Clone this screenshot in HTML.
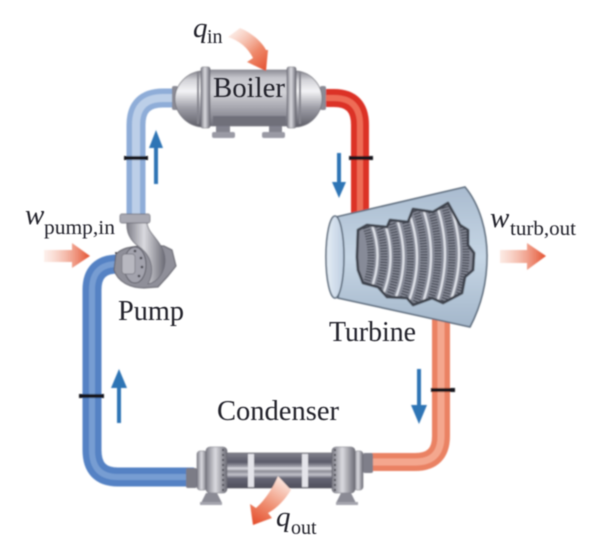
<!DOCTYPE html>
<html>
<head>
<meta charset="utf-8">
<style>
html,body{margin:0;padding:0;background:#fff;width:604px;height:560px;overflow:hidden}
svg{display:block}
text{font-family:"Liberation Serif",serif;fill:#20202a}
</style>
</head>
<body>
<svg width="604" height="560" viewBox="0 0 604 560" xmlns="http://www.w3.org/2000/svg">
<defs>
<filter id="b" x="-10%" y="-10%" width="120%" height="120%"><feGaussianBlur stdDeviation="0.7"/></filter>
<filter id="t" x="-10%" y="-20%" width="120%" height="140%"><feGaussianBlur stdDeviation="0.4"/></filter>
<clipPath id="jag"><path d="M358 230L367 225L387 227L390 220L408 222L413 209L433 212L448 203L460 225L468 230L468 245L474 253L473 270L465 277L462 293L443 303L432 298L413 305L407 298L387 297L378 287L363 283L358 270L357 257Z"/></clipPath>
<linearGradient id="metalV" x1="0" y1="0" x2="0" y2="1">
<stop offset="0" stop-color="#85858e"/><stop offset=".16" stop-color="#d2d2d7"/><stop offset=".36" stop-color="#f4f4f6"/><stop offset=".66" stop-color="#9d9da6"/><stop offset="1" stop-color="#5e5e68"/>
</linearGradient>
<linearGradient id="bodyV" x1="0" y1="0" x2="0" y2="1">
<stop offset="0" stop-color="#8c8c95"/><stop offset=".14" stop-color="#c6c6cc"/><stop offset=".4" stop-color="#d2d2d7"/><stop offset=".75" stop-color="#9a9aa3"/><stop offset="1" stop-color="#70707a"/>
</linearGradient>
<linearGradient id="metalH" x1="0" y1="0" x2="1" y2="0">
<stop offset="0" stop-color="#7d7d87"/><stop offset=".45" stop-color="#dadadf"/><stop offset="1" stop-color="#6c6c76"/>
</linearGradient>
<linearGradient id="cond" x1="0" y1="0" x2="0" y2="1">
<stop offset="0" stop-color="#82828d"/><stop offset=".26" stop-color="#5a5a68"/><stop offset=".38" stop-color="#9c9ca6"/><stop offset=".44" stop-color="#dcdce2"/><stop offset=".52" stop-color="#8b8b95"/><stop offset=".62" stop-color="#c2c2ca"/><stop offset=".72" stop-color="#666674"/><stop offset="1" stop-color="#4e4e5c"/>
</linearGradient>
<linearGradient id="tb" x1="0" y1="0" x2="0" y2="1">
<stop offset="0" stop-color="#a9bbcf"/><stop offset=".5" stop-color="#c6d6e5"/><stop offset="1" stop-color="#a3b6ca"/>
</linearGradient>
<linearGradient id="ell" x1="0" y1="0" x2="1" y2="0">
<stop offset="0" stop-color="#e6eef6"/><stop offset="1" stop-color="#bccde0"/>
</linearGradient>
<linearGradient id="ra1" gradientUnits="userSpaceOnUse" x1="44" y1="0" x2="90" y2="0">
<stop offset="0" stop-color="#f4b9a4" stop-opacity=".2"/><stop offset="1" stop-color="#e4502f"/>
</linearGradient>
<linearGradient id="ra2" gradientUnits="userSpaceOnUse" x1="500" y1="0" x2="546" y2="0">
<stop offset="0" stop-color="#f4b9a4" stop-opacity=".3"/><stop offset="1" stop-color="#e4502f"/>
</linearGradient>
<linearGradient id="ra3" gradientUnits="userSpaceOnUse" x1="230" y1="30" x2="268" y2="70">
<stop offset="0" stop-color="#f4b9a4" stop-opacity=".2"/><stop offset=".6" stop-color="#ee8a6c"/><stop offset="1" stop-color="#e4502f"/>
</linearGradient>
<linearGradient id="ra4" gradientUnits="userSpaceOnUse" x1="282" y1="480" x2="255" y2="524">
<stop offset="0" stop-color="#fbe3da"/><stop offset=".55" stop-color="#ef8f72"/><stop offset="1" stop-color="#e4502f"/>
</linearGradient>
</defs>

<g filter="url(#b)">
<!-- Pipes -->
<g fill="none" stroke-linecap="butt">
<path d="M136 216V125Q136 98 163 98H180" stroke="#8fadd8" stroke-width="19"/>
<path d="M136 216V125Q136 98 163 98H180" stroke="#bccfe8" stroke-width="8"/>
<path d="M322 98H334Q360 98 360 125V216" stroke="#dc3327" stroke-width="18"/>
<path d="M322 98H334Q360 98 360 125V216" stroke="#ee6c56" stroke-width="6"/>
<path d="M441 318V436Q441 462 415 462H366" stroke="#ea8263" stroke-width="18"/>
<path d="M441 318V436Q441 462 415 462H366" stroke="#f4a78e" stroke-width="7"/>
<path d="M194 477H118Q92 477 92 450V290Q92 264 118 264H126" stroke="#5482c4" stroke-width="19"/>
<path d="M194 477H118Q92 477 92 450V290Q92 264 118 264H126" stroke="#779dd2" stroke-width="6"/>
</g>

<!-- Bands -->
<g fill="#15151a">
<rect x="124" y="156" width="24" height="4"/>
<rect x="349" y="156" width="24" height="4"/>
<rect x="431" y="388" width="24" height="4"/>
<rect x="79" y="394" width="25" height="4"/>
</g>

<!-- Flow arrows -->
<g fill="#2f75b5">
<path d="M154 184V148H149L156 130L163 148H158V184Z"/>
<path d="M337 153V182H332L339 198L346 182H341V153Z"/>
<path d="M417 369V405H411L419 424L427 405H421V369Z"/>
<path d="M117 423V388H111L119 369L127 388H121V423Z"/>
</g>

<!-- Boiler -->
<rect x="172" y="86" width="6" height="24" rx="2" fill="#8a8a94"/>
<rect x="320" y="86" width="6" height="24" rx="2" fill="#8a8a94"/>
<rect x="216" y="124" width="14" height="10" fill="#83838e"/>
<rect x="269" y="124" width="13" height="10" fill="#83838e"/>
<rect x="212" y="132" width="23" height="6" rx="2" fill="#9a9aa4"/>
<rect x="262" y="132" width="23" height="6" rx="2" fill="#9a9aa4"/>
<path d="M202 71C186 72 175 86 175 99C175 112 186 126 202 127Z" fill="url(#metalV)" stroke="#75757d" stroke-width=".8"/>
<path d="M296 71C312 72 322 86 322 99C322 112 312 126 296 127Z" fill="url(#metalV)" stroke="#75757d" stroke-width=".8"/>
<rect x="205" y="70" width="86" height="56" fill="url(#bodyV)" stroke="#7b7b83" stroke-width=".6"/>
<rect x="201" y="67" width="9" height="61" rx="2" fill="url(#metalH)" stroke="#66666f" stroke-width=".6"/>
<rect x="287" y="67" width="9" height="61" rx="2" fill="url(#metalH)" stroke="#66666f" stroke-width=".6"/>
<rect x="197" y="72" width="2" height="52" fill="#85858e"/>
<rect x="299" y="72" width="2" height="52" fill="#85858e"/>
<rect x="213" y="116" width="73" height="10" fill="#6f6f7a"/>

<!-- Turbine -->
<path d="M336 217L465 187C480 205 487 232 487 256C487 285 480 308 470 327L338 298C345 270 345 240 336 217Z" fill="url(#tb)" stroke="#5b6a7b" stroke-width="1.6"/>
<ellipse cx="335" cy="257" rx="9" ry="41" fill="url(#ell)" stroke="#5b6a7b" stroke-width="1.6"/>
<path d="M358 230L367 225L387 227L390 220L408 222L413 209L433 212L448 203L460 225L468 230L468 245L474 253L473 270L465 277L462 293L443 303L432 298L413 305L407 298L387 297L378 287L363 283L358 270L357 257Z" fill="#878b98"/>
<g fill="none" clip-path="url(#jag)">
<g stroke="#3a3e49" stroke-width="7" stroke-dasharray="1.2 1.6">
<path d="M364 222Q378 256 364 290"/><path d="M376 218Q392 257 376 294"/><path d="M388 213Q406 258 388 300"/><path d="M401 209Q420 258 401 304"/><path d="M414 205Q434 256 414 308"/><path d="M428 201Q448 254 428 308"/><path d="M442 199Q462 254 442 308"/><path d="M456 205Q476 254 456 302"/>
</g>
<g stroke="#dfe2e9" stroke-width="2.2">
<path d="M370 220Q385 256 370 292"/><path d="M382 216Q399 257 382 297"/><path d="M394 211Q413 258 394 302"/><path d="M407 207Q427 258 407 306"/><path d="M421 203Q441 255 421 308"/><path d="M435 200Q455 254 435 308"/><path d="M449 202Q469 254 449 305"/>
</g>
</g>
<path d="M358 230L367 225L387 227L390 220L408 222L413 209L433 212L448 203L460 225L468 230L468 245L474 253L473 270L465 277L462 293L443 303L432 298L413 305L407 298L387 297L378 287L363 283L358 270L357 257Z" fill="none" stroke="#41454f" stroke-width="2.8" stroke-linejoin="round"/>

<!-- Pump -->
<path d="M116 254C124 246 135 247 146 245L164 246L172 250L176 266L168 276L158 287L144 288C130 288 118 282 114 270Z" fill="#8f8f99" stroke="#5e5e68" stroke-width="1"/>
<path d="M127 222H147C147 232 158 238 163 250C169 266 160 282 148 284C156 268 150 254 138 246C130 240 126 232 127 222Z" fill="url(#metalH)" stroke="#6a6a74" stroke-width=".8"/>
<rect x="120" y="214" width="30" height="9" rx="2" fill="#a9a9b2" stroke="#686872" stroke-width=".7"/>
<ellipse cx="135" cy="265" rx="11" ry="18" fill="#a3a3ad" stroke="#5c5c66" stroke-width="1"/>
<rect x="122" y="254" width="13" height="20" rx="3" fill="#b8b8c0" stroke="#72727c" stroke-width=".7"/>
<g fill="#3a3a44">
<circle cx="135" cy="251" r="1.3"/><circle cx="141" cy="258" r="1.3"/><circle cx="142" cy="267" r="1.3"/><circle cx="139" cy="276" r="1.3"/><circle cx="116" cy="253" r="1"/>
</g>

<!-- Condenser -->
<rect x="186" y="468" width="11" height="20" rx="2" fill="#7b7b86"/>
<rect x="363" y="453" width="10" height="20" rx="2" fill="#7f7f8a"/>
<rect x="224" y="453" width="108" height="35" fill="url(#cond)" stroke="#55555f" stroke-width=".6"/>
<rect x="248" y="454" width="6" height="33" fill="#e4e4ea"/>
<rect x="302" y="454" width="6" height="33" fill="#e4e4ea"/>
<rect x="197" y="451" width="10" height="39" rx="3" fill="url(#metalH)" stroke="#6a6a74" stroke-width=".5"/>
<rect x="354" y="451" width="9" height="39" rx="3" fill="url(#metalH)" stroke="#6a6a74" stroke-width=".5"/>
<rect x="206" y="447" width="21" height="46" rx="4" fill="url(#metalH)" stroke="#6a6a74" stroke-width=".6"/>
<rect x="332" y="447" width="23" height="46" rx="4" fill="url(#metalH)" stroke="#6a6a74" stroke-width=".6"/>
<g stroke="#44444e" stroke-width="1.8" stroke-dasharray="2 3">
<path d="M223 449V491"/><path d="M335 449V491"/>
</g>
<path d="M206 493H217L222 503H201Z" fill="#8b8b95"/>
<path d="M341 493H351L356 503H336Z" fill="#8b8b95"/>
<rect x="200" y="502" width="22" height="3" fill="#a5a5ae"/>
<rect x="336" y="502" width="22" height="3" fill="#a5a5ae"/>

<!-- Energy arrows -->
<path d="M44 250H72V243L90 256L72 268V262H44Z" fill="url(#ra1)"/>
<path d="M500 250H527V243L546 256L527 270V263H500Z" fill="url(#ra2)"/>
<path d="M228 37L240 28C252 33 262 42 266 50L268 50L266 71L247 62L253 58C248 48 240 41 228 37Z" fill="url(#ra3)"/>
<path d="M278 476L291 490C284 501 276 509 268 513L272 518L253 525L250 504L256 508C265 500 273 488 278 476Z" fill="url(#ra4)"/>
</g>

<!-- Labels -->
<g filter="url(#t)">
<text x="213" y="97" font-size="28" textLength="72" lengthAdjust="spacingAndGlyphs">Boiler</text>
<text x="329" y="341" font-size="28" textLength="87" lengthAdjust="spacingAndGlyphs">Turbine</text>
<text x="118" y="320" font-size="28" textLength="66" lengthAdjust="spacingAndGlyphs">Pump</text>
<text x="217" y="420" font-size="28" textLength="122" lengthAdjust="spacingAndGlyphs">Condenser</text>
<text x="193" y="37" font-size="29" font-style="italic">q</text>
<text x="207" y="43" font-size="20">in</text>
<text x="25" y="224" font-size="29" font-style="italic">w</text>
<text x="44" y="234" font-size="20" textLength="71" lengthAdjust="spacingAndGlyphs">pump,in</text>
<text x="490" y="227" font-size="29" font-style="italic">w</text>
<text x="510" y="235" font-size="20" textLength="66" lengthAdjust="spacingAndGlyphs">turb,out</text>
<text x="276" y="526" font-size="29" font-style="italic">q</text>
<text x="291" y="534" font-size="20">out</text>
</g>
</svg>
</body>
</html>
